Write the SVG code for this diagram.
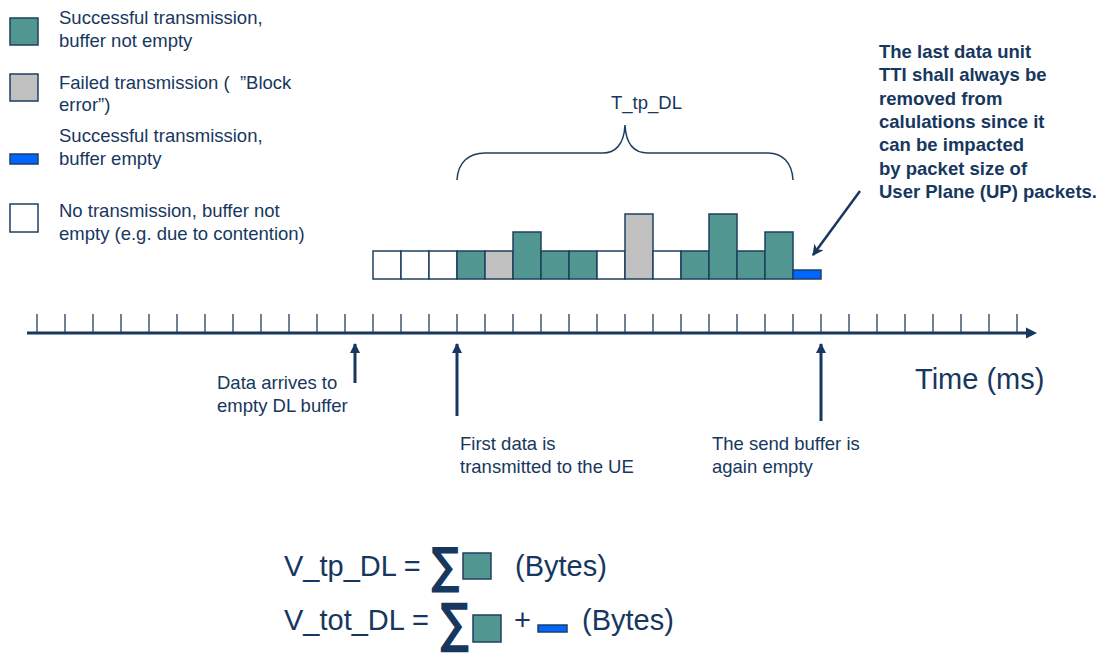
<svg xmlns="http://www.w3.org/2000/svg" width="1100" height="657" viewBox="0 0 1100 657">
<style>
  text { font-family: "Liberation Sans", Arial, sans-serif; fill: #17375e; }
  .t { font-size: 18.5px; }
  .b { font-size: 18.5px; font-weight: bold; }
  .f { font-size: 29px; }
  .sig { font-family: "DejaVu Sans", sans-serif; font-weight: bold; }
  .cell { stroke: #1f3f5f; stroke-width: 1.5; }
  .teal { fill: #519690; }
  .gray { fill: #c0c0c0; }
  .blue { fill: #0066ff; }
  .white { fill: #ffffff; }
  .tick { stroke: #1f3f5f; stroke-width: 1.3; }
  .arr { stroke: #17375e; stroke-width: 3; fill: none; }
</style>
<defs>
  <marker id="ah" viewBox="0 0 10 10" refX="9" refY="5" markerWidth="3.4" markerHeight="3.4" markerUnits="strokeWidth" orient="auto">
    <path d="M0,0 L10,5 L0,10 z" fill="#17375e"/>
  </marker>
  <marker id="ah2" viewBox="0 0 10 10" refX="9" refY="5" markerWidth="4.5" markerHeight="4.5" markerUnits="strokeWidth" orient="auto">
    <path d="M0,0 L10,5 L0,10 L3,5 z" fill="#17375e"/>
  </marker>
</defs>
<rect width="1100" height="657" fill="#ffffff"/>

<!-- Legend -->
<g id="legend-success">
  <rect class="cell teal" x="10" y="18" width="28" height="27"/>
  <text class="t" x="59" y="24">Successful transmission,</text>
  <text class="t" x="59" y="47">buffer not empty</text>
</g>
<g id="legend-failed">
  <rect class="cell gray" x="10" y="74" width="28" height="27"/>
  <text class="t" x="59" y="89" xml:space="preserve">Failed transmission (  ”Block</text>
  <text class="t" x="59" y="111">error”)</text>
</g>
<g id="legend-empty">
  <rect class="cell blue" x="10" y="154" width="28" height="10"/>
  <text class="t" x="59" y="142">Successful transmission,</text>
  <text class="t" x="59" y="165">buffer empty</text>
</g>
<g id="legend-none">
  <rect class="cell white" x="10" y="204" width="28" height="28"/>
  <text class="t" x="59" y="217">No transmission, buffer not</text>
  <text class="t" x="59" y="240">empty (e.g. due to contention)</text>
</g>

<!-- Brace and label -->
<g id="brace">
  <path d="M457,180 C458,162 469,153 485,153 L603,153 C614,153 624,146 625,125 C626,146 636,153 648,153 L768,153 C782,153 792,162 793,180" fill="none" stroke="#1f3f5f" stroke-width="1.5"/>
  <text class="t" x="611" y="109">T_tp_DL</text>
</g>

<!-- Cells -->
<g id="cells">
  <rect class="cell white" x="373" y="251" width="28" height="28"/>
  <rect class="cell white" x="401" y="251" width="28" height="28"/>
  <rect class="cell white" x="429" y="251" width="28" height="28"/>
  <rect class="cell teal" x="457" y="251" width="28" height="28"/>
  <rect class="cell gray" x="485" y="251" width="28" height="28"/>
  <rect class="cell teal" x="513" y="232" width="28" height="47"/>
  <rect class="cell teal" x="541" y="251" width="28" height="28"/>
  <rect class="cell teal" x="569" y="251" width="28" height="28"/>
  <rect class="cell white" x="597" y="251" width="28" height="28"/>
  <rect class="cell gray" x="625" y="214" width="28" height="65"/>
  <rect class="cell white" x="653" y="251" width="28" height="28"/>
  <rect class="cell teal" x="681" y="251" width="28" height="28"/>
  <rect class="cell teal" x="709" y="214" width="28" height="65"/>
  <rect class="cell teal" x="737" y="251" width="28" height="28"/>
  <rect class="cell teal" x="765" y="232" width="28" height="47"/>
  <rect class="cell blue" x="793" y="270" width="28" height="9"/>
</g>

<!-- Annotation -->
<g id="annotation">
  <text class="b" x="879" y="57.5">The last data unit</text>
  <text class="b" x="879" y="81">TTI shall always be</text>
  <text class="b" x="879" y="104.5">removed from</text>
  <text class="b" x="879" y="128">calulations since it</text>
  <text class="b" x="879" y="151">can be impacted</text>
  <text class="b" x="879" y="174.5">by packet size of</text>
  <text class="b" x="879" y="198">User Plane (UP) packets.</text>
</g>

<!-- Timeline -->
<g id="timeline">
  <line x1="27" y1="333" x2="1028" y2="333" stroke="#17375e" stroke-width="3"/>
  <path d="M1026,327.5 L1037,333 L1026,338.5 z" fill="#17375e"/>
  <path class="tick" d="M37,314V333 M65,314V333 M93,314V333 M121,314V333 M149,314V333 M177,314V333 M205,314V333 M233,314V333 M261,314V333 M289,314V333 M317,314V333 M345,314V333 M373,314V333 M401,314V333 M429,314V333 M457,314V333 M485,314V333 M513,314V333 M541,314V333 M569,314V333 M597,314V333 M625,314V333 M653,314V333 M681,314V333 M709,314V333 M737,314V333 M765,314V333 M793,314V333 M821,314V333 M849,314V333 M877,314V333 M905,314V333 M933,314V333 M961,314V333 M989,314V333 M1017,314V333"/>
  <text x="915" y="389" style="font-size:29px">Time (ms)</text>
</g>

<!-- Connectors -->
<g id="connectors">
  <line class="arr" x1="355" y1="383" x2="355" y2="344" marker-end="url(#ah)"/>
  <line class="arr" x1="457" y1="416" x2="457" y2="344" marker-end="url(#ah)"/>
  <line class="arr" x1="821" y1="421" x2="821" y2="344" marker-end="url(#ah)"/>
  <line x1="860" y1="191" x2="813" y2="255" stroke="#17375e" stroke-width="2.5" marker-end="url(#ah2)"/>
</g>

<!-- Event labels -->
<g id="label-arrives">
  <text class="t" x="217" y="389">Data arrives to</text>
  <text class="t" x="217" y="412">empty DL buffer</text>
</g>
<g id="label-first">
  <text class="t" x="460" y="450">First data is</text>
  <text class="t" x="460" y="473">transmitted to the UE</text>
</g>
<g id="label-emptyagain">
  <text class="t" x="712" y="450">The send buffer is</text>
  <text class="t" x="712" y="473">again empty</text>
</g>

<!-- Formulas -->
<g id="formula-tp">
  <text class="f" x="284" y="576">V_tp_DL =</text>
  <text class="sig" transform="translate(431,583) scale(0.8,1)" x="0" y="0" style="font-size:50px">∑</text>
  <rect class="cell teal" x="463" y="553" width="28" height="26"/>
  <text class="f" x="515" y="576">(Bytes)</text>
</g>
<g id="formula-tot">
  <text class="f" x="284" y="630">V_tot_DL =</text>
  <text class="sig" transform="translate(440,642) scale(0.74,1)" x="0" y="0" style="font-size:55px">∑</text>
  <rect class="cell teal" x="473" y="615" width="28" height="27"/>
  <text class="f" x="514" y="630">+</text>
  <rect class="cell blue" x="538" y="625" width="29" height="7"/>
  <text class="f" x="582" y="630">(Bytes)</text>
</g>
</svg>
